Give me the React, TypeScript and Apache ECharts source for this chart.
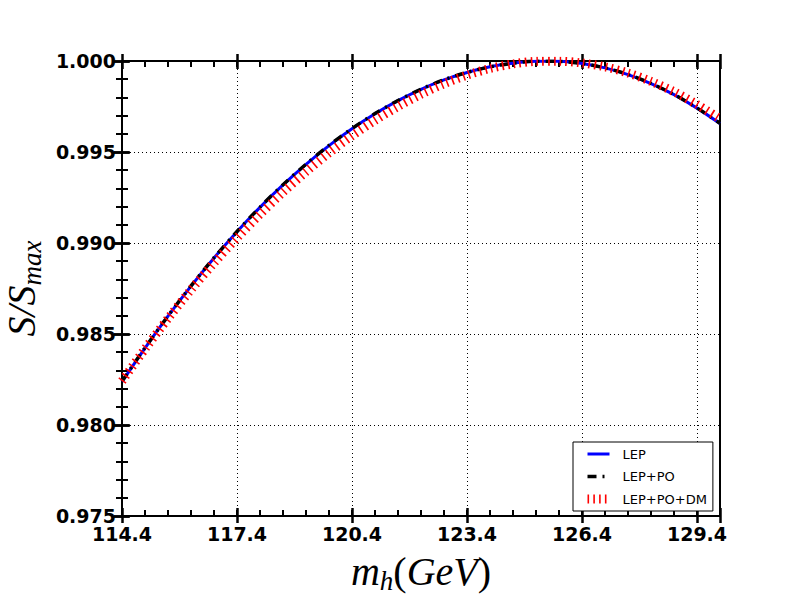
import React, { useEffect, useRef } from 'react';
import * as echarts from 'echarts';

// Higgs mass (GeV) sample points
const massGeV = [
  114.4, 115.0, 115.6, 116.2, 116.8, 117.4, 118.0, 118.6, 119.2, 119.8,
  120.4, 121.0, 121.6, 122.2, 122.8, 123.4, 124.0, 124.6, 125.2, 125.8,
  126.4, 127.0, 127.6, 128.2, 128.8, 129.4, 130.0,
];

// S/Smax for the three fits
const lep = [
  0.98238, 0.98423, 0.98598, 0.98763, 0.98918, 0.99062, 0.99196, 0.99319, 0.99432, 0.99535,
  0.99628, 0.99710, 0.99782, 0.99844, 0.99896, 0.99937, 0.99968, 0.99988, 0.99999, 0.99998,
  0.99986, 0.99962, 0.99925, 0.99876, 0.99815, 0.99741, 0.99656,
];
const lepPo = [
  0.98240, 0.98424, 0.98599, 0.98764, 0.98919, 0.99063, 0.99197, 0.99320, 0.99433, 0.99536,
  0.99629, 0.99711, 0.99783, 0.99845, 0.99897, 0.99937, 0.99968, 0.99988, 0.99999, 0.99998,
  0.99986, 0.99962, 0.99926, 0.99877, 0.99816, 0.99742, 0.99658,
];
const lepPoDm = [
  0.98241, 0.98418, 0.98585, 0.98743, 0.98890, 0.99028, 0.99158, 0.99279, 0.99391, 0.99495,
  0.99589, 0.99674, 0.99750, 0.99817, 0.99875, 0.99922, 0.99959, 0.99984, 0.99998, 0.99999,
  0.99989, 0.99968, 0.99934, 0.99888, 0.99831, 0.99761, 0.99682,
];

const seriesNames = ['LEP', 'LEP+PO', 'LEP+PO+DM'];
const xTickLabels = ['114.4', '117.4', '120.4', '123.4', '126.4', '129.4'];

const X_MIN = 114.4;
const X_MAX = 130.0;
const Y_MIN = 0.975;
const Y_MAX = 1.0;

export default function App() {
  const ref = useRef<HTMLDivElement>(null);

  useEffect(() => {
    document.body.style.margin = '0';
    if (!ref.current) return;
    const chart = echarts.init(ref.current, undefined, { renderer: 'svg' });

    const span = Math.round((X_MAX - X_MIN) * 10) / 10;
    const toData = (vals: number[]) =>
      massGeV.map((m, i) => [Math.round((m - X_MIN) * 1000) / 1000, vals[i]]);

    const labelFont = {
      fontFamily: 'DejaVu Sans',
      fontWeight: 'bold' as const,
      fontSize: 19,
      color: '#000',
    };
    const mathFont = 'Liberation Serif';

    const majorTickStyle = { color: '#000', width: 2.5 };
    const minorTickStyle = { color: '#000', width: 2 };

    const xBase = (position: string, inside: boolean, length: number, interval: number, extra: any = {}) => ({
      type: 'value',
      position,
      min: 0,
      max: span,
      interval,
      axisLine: { show: false },
      axisTick: { show: true, inside, length, lineStyle: interval < 1 ? minorTickStyle : majorTickStyle },
      axisLabel: { show: false },
      splitLine: { show: false },
      ...extra,
    });

    const yBase = (position: string, inside: boolean, length: number, minor: boolean, extra: any = {}) => ({
      type: 'value',
      position,
      min: Y_MIN,
      max: Y_MAX,
      interval: 0.005,
      axisLine: { show: false },
      axisTick: { show: true, inside, length, lineStyle: majorTickStyle },
      minorTick: { show: minor, splitNumber: 5, length: 6, lineStyle: minorTickStyle },
      axisLabel: { show: false },
      splitLine: { show: false },
      ...extra,
    });

    const option: any = {
      animation: false,
      backgroundColor: '#fff',
      grid: {
        left: 122,
        right: 80,
        top: 61,
        bottom: 84,
        containLabel: false,
        outerBoundsMode: 'none',
        show: true,
        borderColor: '#000',
        borderWidth: 2,
        backgroundColor: 'transparent',
      },
      legend: {
        data: seriesNames,
        orient: 'vertical',
        left: 573,
        top: 442,
        backgroundColor: '#fff',
        borderColor: '#000',
        borderWidth: 1,
        borderRadius: 0,
        padding: [5.5, 6, 5.5, 10],
        itemWidth: 22,
        itemHeight: 12,
        itemGap: 9.5,
        itemStyle: { opacity: 0 },
        lineStyle: { width: 'inherit', type: 'inherit', cap: 'butt' },
        textStyle: { fontFamily: 'DejaVu Sans', fontSize: 13, color: '#000', padding: [0, 0, 0, 8] },
      },
      xAxis: [
        xBase('bottom', true, 8, 3, {
          axisLabel: {
            show: true,
            margin: 8,
            ...labelFont,
            formatter: (_v: number, idx: number) => (idx < xTickLabels.length ? xTickLabels[idx] : ''),
          },
          splitLine: { show: true, lineStyle: { color: '#000', width: 1, type: [1, 3] } },
          name: '{i|m}{s|h}{n|(}{i|GeV}{n|)}',
          nameLocation: 'middle',
          nameGap: 35,
          nameTextStyle: {
            rich: {
              i: { fontFamily: mathFont, fontStyle: 'italic', fontSize: 40, lineHeight: 40, color: '#000' },
              n: { fontFamily: mathFont, fontSize: 40, lineHeight: 40, color: '#000' },
              s: { fontFamily: mathFont, fontStyle: 'italic', fontSize: 27, lineHeight: 20, padding: [20, 0, 0, 0], color: '#000' },
            },
          },
        }),
        xBase('bottom', false, 7, 3),
        xBase('bottom', true, 6, 0.6),
        xBase('top', true, 8, 3),
        xBase('top', false, 7, 3),
        xBase('top', true, 6, 0.6),
      ],
      yAxis: [
        yBase('left', true, 8, true, {
          axisLabel: {
            show: true,
            margin: 6,
            ...labelFont,
            formatter: (v: number) => v.toFixed(3),
          },
          splitLine: { show: true, lineStyle: { color: '#000', width: 1, type: [1, 3] } },
          name: '{i|S/S}{s|max}',
          nameLocation: 'middle',
          nameRotate: 90,
          nameGap: 80,
          nameTextStyle: {
            rich: {
              i: { fontFamily: mathFont, fontStyle: 'italic', fontSize: 40, lineHeight: 40, color: '#000' },
              s: { fontFamily: mathFont, fontStyle: 'italic', fontSize: 27, lineHeight: 20, padding: [20, 0, 0, 0], color: '#000' },
            },
          },
        }),
        yBase('left', false, 8, false),
        yBase('right', true, 8, true),
        yBase('right', false, 7, false),
      ],
      series: [
        {
          name: seriesNames[0],
          type: 'line',
          xAxisIndex: 0,
          yAxisIndex: 0,
          data: toData(lep),
          showSymbol: false,
          symbol: 'none',
          smooth: 0.3,
          lineStyle: { color: '#0000ff', width: 3 },
          itemStyle: { color: '#0000ff' },
          z: 3,
        },
        {
          name: seriesNames[1],
          type: 'line',
          xAxisIndex: 0,
          yAxisIndex: 0,
          data: toData(lepPo),
          showSymbol: false,
          symbol: 'none',
          smooth: 0.3,
          lineStyle: { color: '#000', width: 3.5, type: [9, 6, 2, 6], cap: 'butt' },
          itemStyle: { color: '#000' },
          z: 4,
        },
        {
          name: seriesNames[2],
          type: 'line',
          xAxisIndex: 0,
          yAxisIndex: 0,
          data: toData(lepPoDm),
          showSymbol: false,
          symbol: 'none',
          smooth: 0.3,
          lineStyle: { color: '#ff0000', width: 9, type: [1.6, 4.2], cap: 'butt' },
          itemStyle: { color: '#ff0000' },
          z: 5,
        },
      ],
    };

    chart.setOption(option);
    return () => chart.dispose();
  }, []);

  return <div ref={ref} style={{ width: 800, height: 600 }} />;
}
